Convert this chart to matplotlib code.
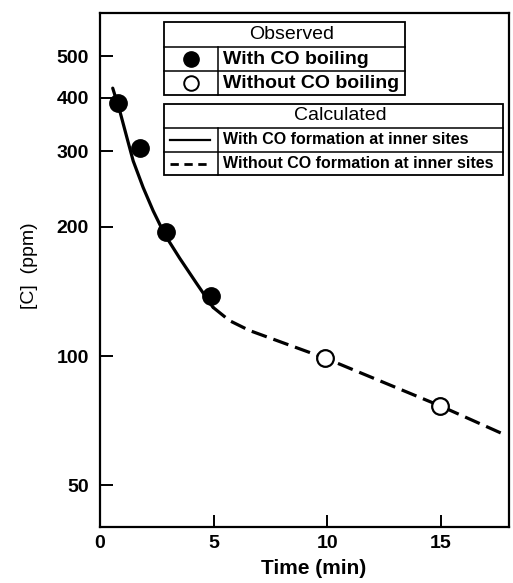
import matplotlib
matplotlib.use("Agg")
import matplotlib.pyplot as plt
from matplotlib.patches import Rectangle
from matplotlib.lines import Line2D

plt.rcParams['font.family'] = ['Liberation Sans', 'DejaVu Sans']

# observed points
time_boil = [0.80, 1.75, 2.92, 4.89]
conc_boil = [389, 306, 195, 138]
time_noboil = [9.9, 14.97]
conc_noboil = [99, 76.6]

# calculated curves
calc_with_t = [0.56, 0.88, 1.17, 1.46, 1.90, 2.34, 2.85, 3.51, 4.24, 4.97]
calc_with_c = [421, 371, 325, 285, 247, 218, 192, 169, 148, 130]
calc_without_t = [4.97, 5.7, 6.57, 8.0, 9.9, 12.5, 14.97, 17.9]
calc_without_c = [130, 121, 114.8, 107.7, 99, 86.8, 76.6, 65.3]

y_ticks = [50, 100, 200, 300, 400, 500]
x_ticks = [0, 5, 10, 15]

fig = plt.figure(figsize=(5.13, 5.83), dpi=100)
ax = fig.add_axes([100 / 513, 1 - 527 / 583, 409 / 513, 514 / 583])

ax.plot(calc_with_t, calc_with_c, color='black', lw=2.3, solid_capstyle='round')
ax.plot(calc_without_t, calc_without_c, color='black', lw=2.3, dashes=(5, 2.2))
ax.plot(time_boil, conc_boil, 'o', color='black', ms=12.5, zorder=3)
ax.plot(time_noboil, conc_noboil, 'o', mfc='white', mec='black', mew=1.6, ms=12, zorder=3)

ax.set_yscale('log')
ax.set_ylim(40, 630)
ax.set_xlim(0, 18)
ax.set_yticks(y_ticks)
ax.set_yticklabels([str(v) for v in y_ticks])
ax.yaxis.set_minor_locator(matplotlib.ticker.NullLocator())
ax.set_xticks(x_ticks)
ax.set_xticklabels([str(v) for v in x_ticks])

for sp in ax.spines.values():
    sp.set_linewidth(1.6)
ax.tick_params(direction='in', length=9, width=1.4, labelsize=14)
ax.tick_params(axis='y', pad=8)
ax.tick_params(axis='x', pad=6)
for lab in ax.get_xticklabels() + ax.get_yticklabels():
    lab.set_fontweight('bold')

ax.set_xlabel('Time (min)', fontsize=15, fontweight='bold')
ax.xaxis.set_label_coords(0.522, -0.062)
ax.set_ylabel('[C]  (ppm)', fontsize=14)
ax.yaxis.set_label_coords(-0.152, 0.508)


# legend tables (pixel positions of the reference converted to axes fractions)
def fx(px):
    return (px - 100) / 409


def fy(py):
    return (527 - py) / 514


def table(x0, x1, ys, xdiv, title, rows, title_fs, row_fs):
    tr = ax.transAxes
    ax.add_patch(Rectangle((fx(x0), fy(ys[-1])), fx(x1) - fx(x0), fy(ys[0]) - fy(ys[-1]),
                           transform=tr, fc='white', ec='black', lw=1.3, clip_on=False, zorder=4))
    for y in ys[1:-1]:
        ax.plot([fx(x0), fx(x1)], [fy(y), fy(y)], color='black', lw=1.1, transform=tr,
                clip_on=False, zorder=5)
    ax.plot([fx(xdiv), fx(xdiv)], [fy(ys[1]), fy(ys[-1])], color='black', lw=1.1,
            transform=tr, clip_on=False, zorder=5)
    ax.text(fx((x0 + x1) / 2 + 7), fy((ys[0] + ys[1]) / 2), title, transform=tr,
            ha='center', va='center', fontsize=title_fs, zorder=6)
    for i, (sym, label) in enumerate(rows):
        yc = fy((ys[i + 1] + ys[i + 2]) / 2)
        xc = fx((x0 + xdiv) / 2)
        if sym == 'filled':
            ax.add_line(Line2D([xc], [yc], marker='o', color='black', ms=11,
                               transform=tr, clip_on=False, zorder=6))
        elif sym == 'open':
            ax.add_line(Line2D([xc], [yc], marker='o', mfc='white', mec='black', mew=1.4,
                               ms=10.5, transform=tr, clip_on=False, zorder=6))
        elif sym == 'solid':
            ax.add_line(Line2D([fx(x0 + 6), fx(xdiv - 8)], [yc, yc], color='black', lw=1.6,
                               transform=tr, clip_on=False, zorder=6))
        else:
            ax.add_line(Line2D([fx(x0 + 6), fx(xdiv - 8)], [yc, yc], color='black', lw=2.0,
                               dashes=(3, 2), transform=tr, clip_on=False, zorder=6))
        ax.text(fx(xdiv + 5), yc, label, transform=tr, ha='left', va='center',
                fontsize=row_fs, fontweight='bold', zorder=6)


table(164, 405, [22, 47, 71, 95], 218, 'Observed',
      [('filled', 'With CO boiling'), ('open', 'Without CO boiling')], 14, 14)
table(164, 503, [104, 128, 152, 175], 218, 'Calculated',
      [('solid', 'With CO formation at inner sites'),
       ('dashed', 'Without CO formation at inner sites')], 14, 11.5)

fig.savefig('out.png', dpi=100)
